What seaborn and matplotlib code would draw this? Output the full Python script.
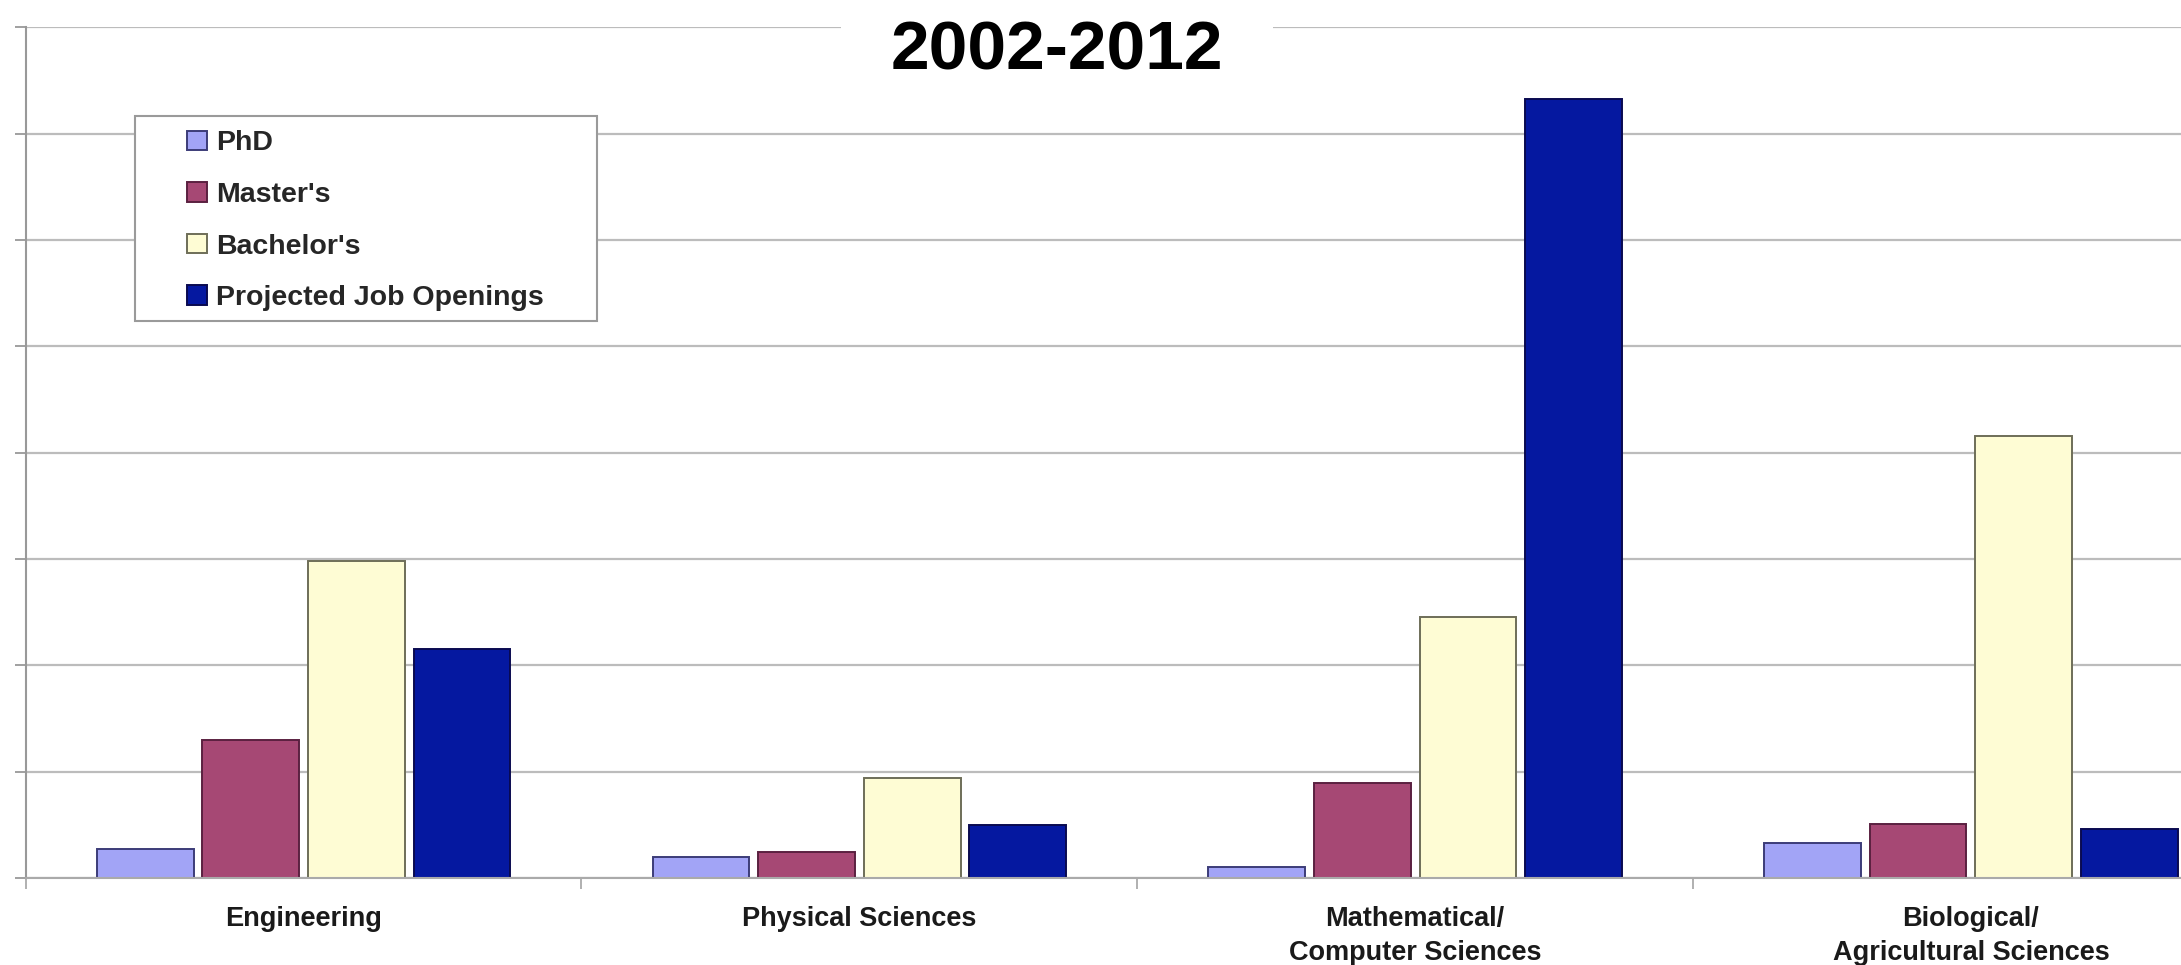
import matplotlib
matplotlib.use("Agg")
import matplotlib.pyplot as plt
from matplotlib.patches import Rectangle
from matplotlib.ticker import FixedLocator, MultipleLocator
import pandas as pd
import seaborn as sns

# Degrees granted vs. projected job openings, 2002-2012 (values in gridline units x10)
fields = [
    "Engineering",
    "Physical Sciences",
    "Mathematical/\nComputer Sciences",
    "Biological/\nAgricultural Sciences",
]
series = ["PhD", "Master's", "Bachelor's", "Projected Job Openings"]
phd = [2.7, 2.0, 1.0, 3.3]
masters = [13.0, 2.4, 8.9, 5.1]
bachelors = [29.8, 9.4, 24.5, 41.6]
job_openings = [21.5, 5.0, 73.3, 4.6]

fill_colors = ["#A2A4F6", "#A64874", "#FEFCD4", "#0518A0"]
edge_colors = ["#3c3c78", "#5a2040", "#6e6e58", "#0a0a50"]

df = pd.DataFrame({
    "field": fields * 4,
    "series": [s for s in series for _ in fields],
    "value": phd + masters + bachelors + job_openings,
})

sns.set_style("white")
plt.rcParams["font.family"] = ["Liberation Sans", "DejaVu Sans"]
plt.rcParams["font.weight"] = "bold"

fig = plt.figure(figsize=(21.81, 9.65), dpi=100)
ax = fig.add_axes([0.01178, 0.0902, 1.0193, 0.8814])

sns.barplot(
    data=df, x="field", y="value", hue="series",
    order=fields, hue_order=series,
    palette=fill_colors, saturation=1,
    width=0.76, gap=0.084, linewidth=1.4,
    edgecolor="#333333", ax=ax, legend=True,
)
for cont, ec in zip(ax.containers, edge_colors):
    for bar in cont:
        bar.set_edgecolor(ec)

ax.set_xlim(-0.5, 3.5)
ax.set_ylim(0, 80)
ax.yaxis.set_major_locator(MultipleLocator(10))
ax.set_yticklabels([])
ax.set_xlabel("")
ax.set_ylabel("")
ax.set_axisbelow(True)
ax.grid(axis="y", color="#bcbcbc", linewidth=1.6)
ax.grid(axis="x", visible=False)

for side in ("top", "right"):
    ax.spines[side].set_visible(False)
ax.spines["left"].set_color("#999999")
ax.spines["left"].set_linewidth(1.5)
ax.spines["bottom"].set_color("#aaaaaa")
ax.spines["bottom"].set_linewidth(1.5)

ax.tick_params(axis="y", which="major", direction="out", length=8,
               color="#999999", width=1.3, left=True)
ax.xaxis.set_minor_locator(FixedLocator([-0.5, 0.5, 1.5, 2.5]))
ax.tick_params(axis="x", which="minor", direction="out", length=8,
               color="#aaaaaa", width=1.3, bottom=True)
ax.tick_params(axis="x", which="major", length=0, pad=20,
               labelsize=19.5, labelcolor="#1a1a1a")
for lbl in ax.get_xticklabels():
    lbl.set_fontweight("bold")
    lbl.set_linespacing(1.42)

# Legend inside a square-cornered box
handles, labels = ax.get_legend_handles_labels()
ax.get_legend().remove()
box = Rectangle((0.0492, 0.8962 - 0.2411), 0.2078, 0.2411,
                transform=ax.transAxes, facecolor="white",
                edgecolor="#9a9a9a", linewidth=1.5, zorder=4)
ax.add_patch(box)
for h, ec in zip(handles, edge_colors):
    h.set_edgecolor(ec)
leg = ax.legend(
    handles, labels, loc="upper left", bbox_to_anchor=(0.0725, 0.879),
    frameon=False, borderpad=0, borderaxespad=0,
    handlelength=0.72, handleheight=0.68, handletextpad=0.3,
    labelspacing=0.9, prop={"size": 20.5, "weight": "bold"},
)
leg.set_zorder(5)

# Title sits on a white strip that breaks the top gridline
fig.add_artist(Rectangle((0.3856, 0.922), 0.1981, 0.078, transform=fig.transFigure,
                         facecolor="white", edgecolor="none", zorder=5))
fig.text(0.4845, 0.947, "2002-2012", ha="center", va="center",
         fontsize=50, fontweight="bold", color="#000000", zorder=10)

fig.savefig("out.png", dpi=100, facecolor="white")
